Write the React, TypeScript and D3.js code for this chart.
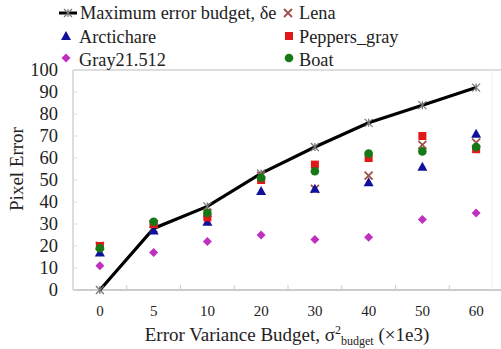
import React from "react";
import * as d3 from "d3";

const categories = ["0", "5", "10", "20", "30", "40", "50", "60"];
const yTicks = [0, 10, 20, 30, 40, 50, 60, 70, 80, 90, 100];
const maxBudget = [0, 28, 38, 53, 65, 76, 84, 92];
const lena = [20, 30, 35, 52, 46, 52, 66, 67];
const arctichare = [17, 27, 31, 45, 46, 49, 56, 71];
const peppers = [20, 30, 33, 50, 57, 60, 70, 64];
const gray21 = [11, 17, 22, 25, 23, 24, 32, 35];
const boat = [19, 31, 35, 51, 54, 62, 63, 65];

const W = 501, H = 349;
const L = 73, R = 503, T = 70, B = 290;
const FONT = "Liberation Serif";

const x = d3.scaleBand<string>().domain(categories).range([L, R]);
const y = d3.scaleLinear().domain([0, 100]).range([B, T]);
const cx = (c: string) => (x(c) as number) + x.bandwidth() / 2;

const COL = {
  lena: "#a0504a",
  arct: "#10109a",
  pep: "#e01818",
  gray: "#c030c0",
  boat: "#157a15",
};

function Marker({ kind, px, py }: { kind: string; px: number; py: number }) {
  if (kind === "tri") {
    const s = 5;
    return <path d={`M${px},${py - s}L${px + s},${py + s * 0.8}L${px - s},${py + s * 0.8}Z`} fill={COL.arct} />;
  }
  if (kind === "sq") return <rect x={px - 4} y={py - 4} width={8} height={8} fill={COL.pep} />;
  if (kind === "dia") return <path d={`M${px},${py - 4.5}L${px + 4.5},${py}L${px},${py + 4.5}L${px - 4.5},${py}Z`} fill={COL.gray} />;
  if (kind === "circ") return <circle cx={px} cy={py} r={4.3} fill={COL.boat} />;
  if (kind === "x")
    return <path d={`M${px - 4},${py - 4}L${px + 4},${py + 4}M${px + 4},${py - 4}L${px - 4},${py + 4}`} stroke={COL.lena} strokeWidth={1.8} />;
  if (kind === "star")
    return (
      <path
        d={`M${px - 4},${py - 4}L${px + 4},${py + 4}M${px + 4},${py - 4}L${px - 4},${py + 4}M${px},${py - 4}L${px},${py + 4}`}
        stroke="#777"
        strokeWidth={1.2}
      />
    );
  return null;
}

function T2(props: any) {
  return <text fontFamily={FONT} fill="#222" {...props} style={{ fontFamily: FONT }} />;
}

export default function App() {
  const line = d3
    .line<number>()
    .x((_, i) => cx(categories[i]))
    .y((d) => y(d));
  const series = [
    { data: lena, kind: "x" },
    { data: arctichare, kind: "tri" },
    { data: gray21, kind: "dia" },
    { data: peppers, kind: "sq" },
    { data: boat, kind: "circ" },
  ];
  const boundaries = categories.slice(1).map((c) => x(c) as number);
  return (
    <svg width={W} height={H} style={{ position: "absolute", left: 0, top: 0, background: "#fff" }}>
      {/* frame */}
      <line x1={L} x2={W} y1={T} y2={T} stroke="#bbb" strokeWidth={1} />
      <line x1={L} x2={W} y1={B} y2={B} stroke="#999" strokeWidth={1} />
      <line x1={L} x2={L} y1={T} y2={B} stroke="#bbb" strokeWidth={1} />
      <line x1={492} x2={492} y1={T} y2={B} stroke="#eee" strokeWidth={1} />
      {boundaries.map((b, i) => (
        <line key={i} x1={b} x2={b} y1={B} y2={B - 5} stroke="#ccc" />
      ))}
      {yTicks.map((t) => (
        <line key={t} x1={L} x2={L + 4} y1={y(t)} y2={y(t)} stroke="#ddd" />
      ))}
      {/* y ticks */}
      {yTicks.map((t) => (
        <T2 key={t} x={58} y={y(t)} dy="0.35em" textAnchor="end" fontSize={18.5}>
          {t}
        </T2>
      ))}
      {/* x ticks */}
      {categories.map((c) => (
        <T2 key={c} x={cx(c)} y={311} dy="0.35em" textAnchor="middle" fontSize={15}>
          {c}
        </T2>
      ))}
      <T2 x={287} y={341} textAnchor="middle" fontSize={19}>
        Error Variance Budget, σ<tspan dy={-7} fontSize={12}>2</tspan>
        <tspan dy={11} fontSize={12}>budget</tspan>
        <tspan dy={-4}> (×1e3)</tspan>
      </T2>
      <T2 transform="translate(23,169) rotate(-90)" textAnchor="middle" fontSize={19}>
        Pixel Error
      </T2>
      {/* data line */}
      <path d={line(maxBudget) || ""} fill="none" stroke="#000" strokeWidth={3.2} />
      {maxBudget.map((v, i) => (
        <Marker key={i} kind="star" px={cx(categories[i])} py={y(v)} />
      ))}
      {series.map((s, si) =>
        s.data.map((v, i) => <Marker key={si + "-" + i} kind={s.kind} px={cx(categories[i])} py={y(v)} />)
      )}
      {/* legend */}
      <line x1={59} x2={77} y1={13} y2={13} stroke="#000" strokeWidth={3} />
      <Marker kind="star" px={68} py={13} />
      <T2 x={80} y={13} dy="0.35em" fontSize={18.3}>Maximum error budget, δe</T2>
      <Marker kind="x" px={288} py={13} />
      <T2 x={299} y={13} dy="0.35em" fontSize={18.3}>Lena</T2>
      <Marker kind="tri" px={66} py={36} />
      <T2 x={79} y={37} dy="0.35em" fontSize={18.3}>Arctichare</T2>
      <Marker kind="sq" px={289} py={36} />
      <T2 x={299} y={37} dy="0.35em" fontSize={18.3}>Peppers_gray</T2>
      <Marker kind="dia" px={66} py={58} />
      <T2 x={79} y={60} dy="0.35em" fontSize={18.3}>Gray21.512</T2>
      <Marker kind="circ" px={289} py={58} />
      <T2 x={299} y={60} dy="0.35em" fontSize={18.3}>Boat</T2>
    </svg>
  );
}
